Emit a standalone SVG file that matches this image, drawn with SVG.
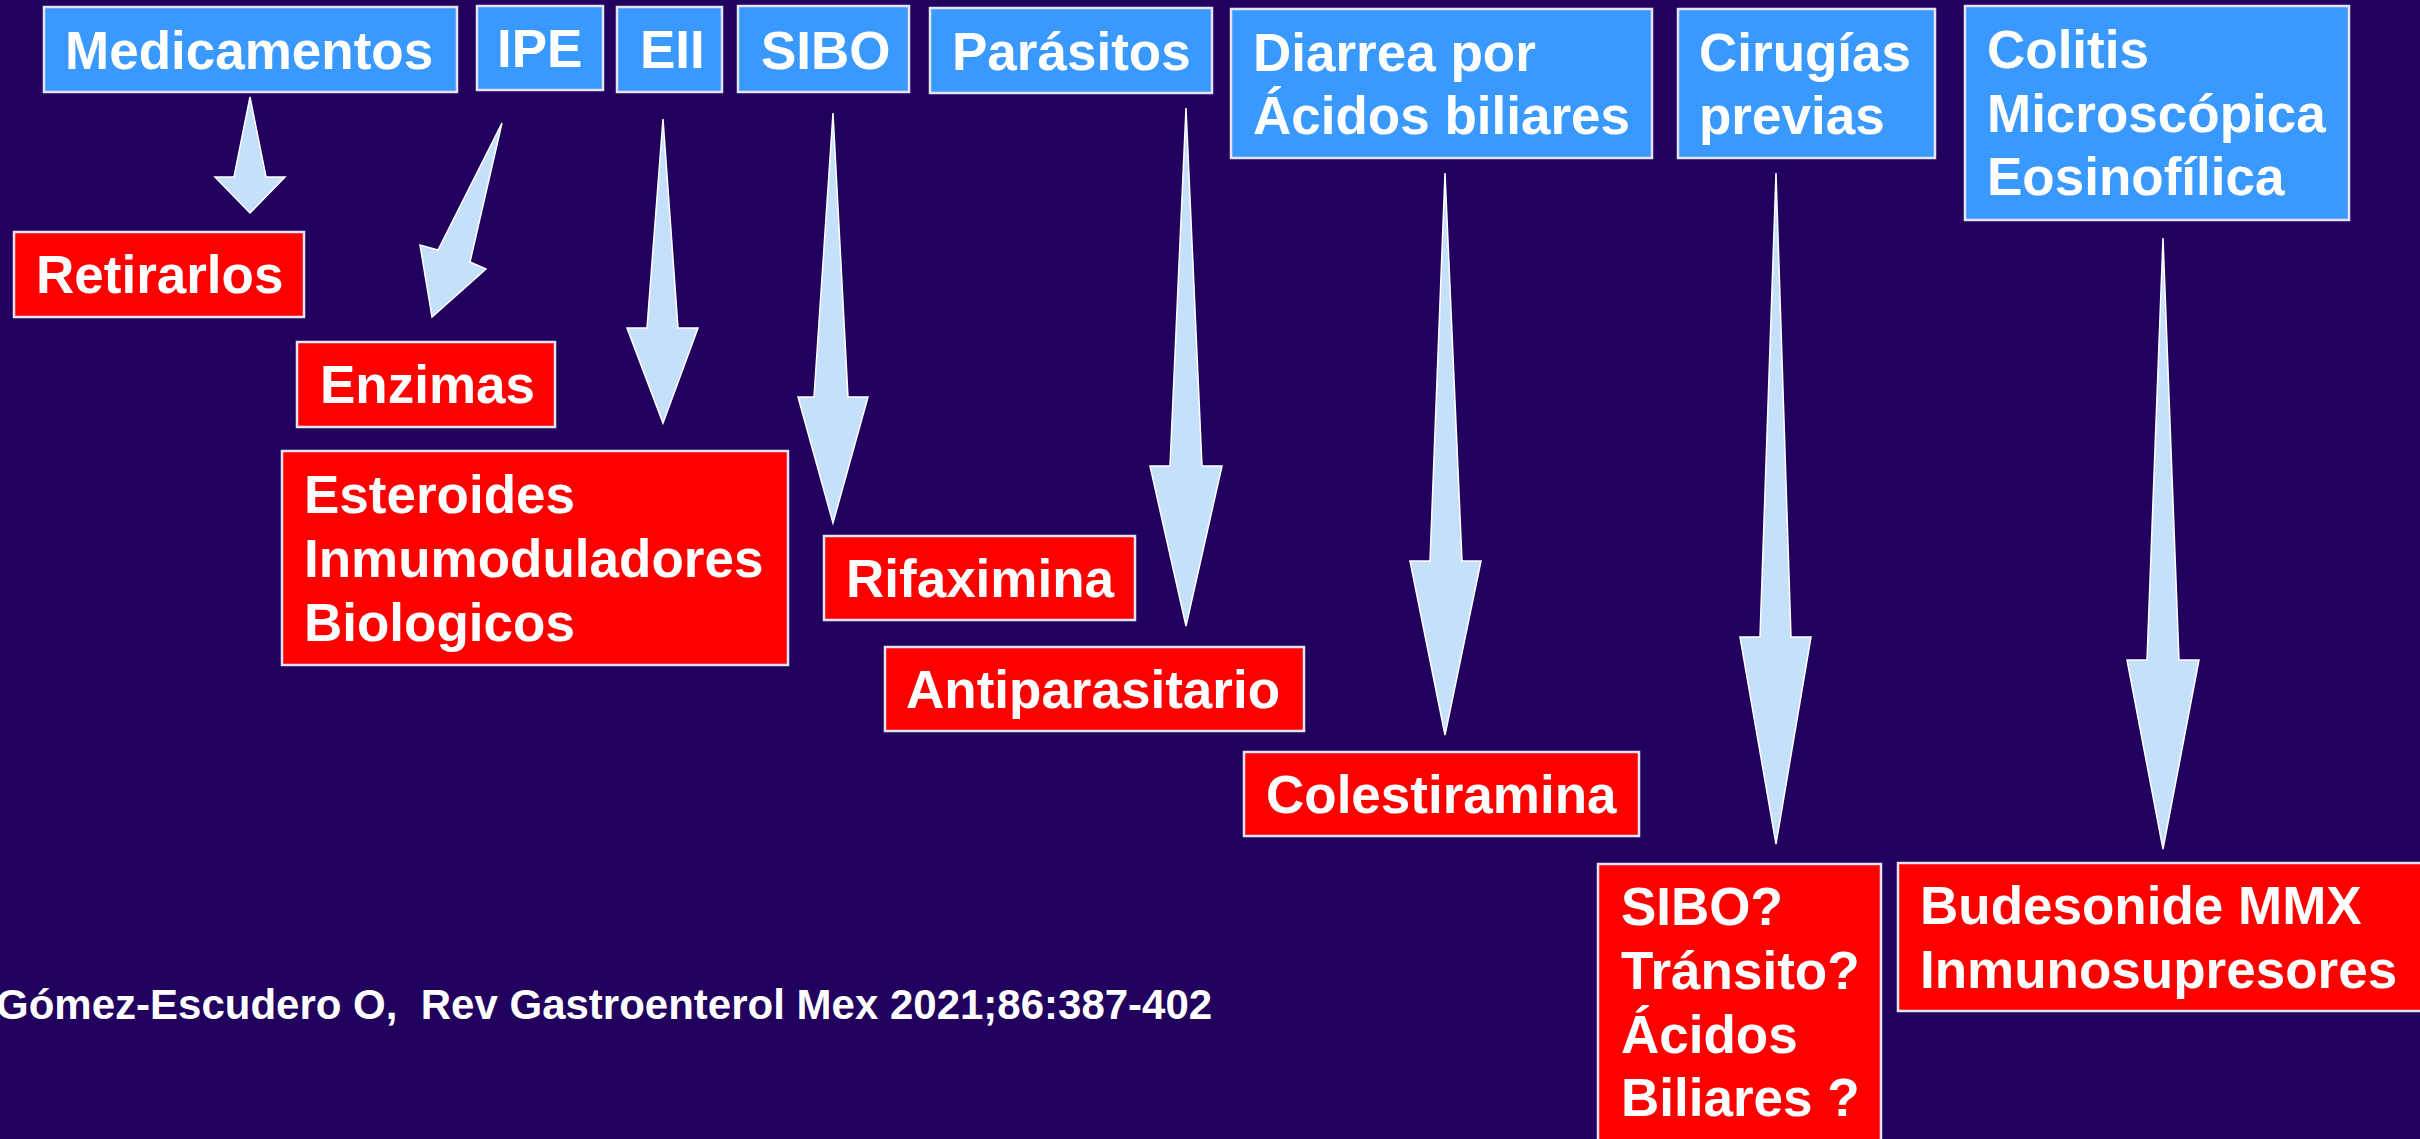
<svg xmlns="http://www.w3.org/2000/svg" width="2420" height="1139" viewBox="0 0 2420 1139">
<style>
.bg{fill:#21005E}
.blue{fill:#3999FF;stroke:#E4E4F2;stroke-width:2.5}
.red{fill:#FF0000;stroke:#E4E4F2;stroke-width:2.5}
.t{font-family:"Liberation Sans",Arial,sans-serif;font-weight:bold;font-size:53px;fill:#FFFFFF}
.arr{fill:#C4E0FA;stroke:#FFFFFF;stroke-width:1.5;stroke-linejoin:miter}
.ref{font-family:"Liberation Sans",Arial,sans-serif;font-weight:bold;font-size:42px;fill:#FFFFFF}
</style>
<rect class="bg" x="0" y="0" width="2420" height="1139"/>
<g id="connectors">
<polygon class="arr" points="250,97 266,177 285,177 250,213 215,177 234,177"/>
<polygon class="arr" points="502,123 470,262 486,269 432,317 420,245 438,250"/>
<polygon class="arr" points="663,119 678,328 698,328 663,423 627,328 647,328"/>
<polygon class="arr" points="833,113 848,397 868,397 833,523 798,397 814,397"/>
<polygon class="arr" points="1186,108 1202,466 1222,466 1186,626 1150,466 1170,466"/>
<polygon class="arr" points="1445,173 1462,561 1481,561 1445,735 1410,561 1430,561"/>
<polygon class="arr" points="1776,173 1791,637 1811,637 1776,844 1740,637 1760,637"/>
<polygon class="arr" points="2163,238 2179,660 2199,660 2163,849 2127,660 2147,660"/>
</g>
<g id="medicamentos"><rect class="blue" x="44" y="7" width="413" height="85"/><text class="t" x="65" y="69">Medicamentos</text></g>
<g id="ipe"><rect class="blue" x="477" y="6" width="126" height="84"/><text class="t" x="497" y="67">IPE</text></g>
<g id="eii"><rect class="blue" x="617" y="7" width="105" height="85"/><text class="t" x="640" y="68">EII</text></g>
<g id="sibo"><rect class="blue" x="738" y="6" width="171" height="86"/><text class="t" x="761" y="69">SIBO</text></g>
<g id="parasitos"><rect class="blue" x="930" y="8" width="282" height="85"/><text class="t" x="952" y="70">Parásitos</text></g>
<g id="diarrea"><rect class="blue" x="1231" y="9" width="421" height="149"/><text class="t" x="1253" y="71">Diarrea por</text><text class="t" x="1253" y="134">Ácidos biliares</text></g>
<g id="cirugias"><rect class="blue" x="1678" y="9" width="257" height="149"/><text class="t" x="1699" y="71">Cirugías</text><text class="t" x="1699" y="134">previas</text></g>
<g id="colitis"><rect class="blue" x="1965" y="6" width="384" height="214"/><text class="t" x="1987" y="68">Colitis</text><text class="t" x="1987" y="132">Microscópica</text><text class="t" x="1987" y="195">Eosinofílica</text></g>
<g id="retirarlos"><rect class="red" x="14" y="232" width="290" height="85"/><text class="t" x="36" y="293">Retirarlos</text></g>
<g id="enzimas"><rect class="red" x="297" y="342" width="258" height="85"/><text class="t" x="320" y="403">Enzimas</text></g>
<g id="esteroides"><rect class="red" x="282" y="451" width="506" height="214"/><text class="t" x="304" y="513">Esteroides</text><text class="t" x="304" y="577">Inmumoduladores</text><text class="t" x="304" y="641">Biologicos</text></g>
<g id="rifaximina"><rect class="red" x="824" y="536" width="311" height="84"/><text class="t" x="846" y="597">Rifaximina</text></g>
<g id="antiparasitario"><rect class="red" x="885" y="647" width="419" height="84"/><text class="t" x="906" y="708">Antiparasitario</text></g>
<g id="colestiramina"><rect class="red" x="1244" y="752" width="395" height="84"/><text class="t" x="1266" y="813">Colestiramina</text></g>
<g id="sibo-q"><rect class="red" x="1598" y="864" width="283" height="285"/><text class="t" x="1621" y="925">SIBO?</text><text class="t" x="1621" y="989">Tránsito?</text><text class="t" x="1621" y="1053">Ácidos</text><text class="t" x="1621" y="1116">Biliares ?</text></g>
<g id="budesonide"><rect class="red" x="1898" y="863" width="530" height="148"/><text class="t" x="1920" y="924">Budesonide MMX</text><text class="t" x="1920" y="988">Inmunosupresores</text></g>
<g id="reference"><text class="ref" x="-4" y="1019" xml:space="preserve">Gómez-Escudero O,  Rev Gastroenterol Mex 2021;86:387-402</text></g>
</svg>
